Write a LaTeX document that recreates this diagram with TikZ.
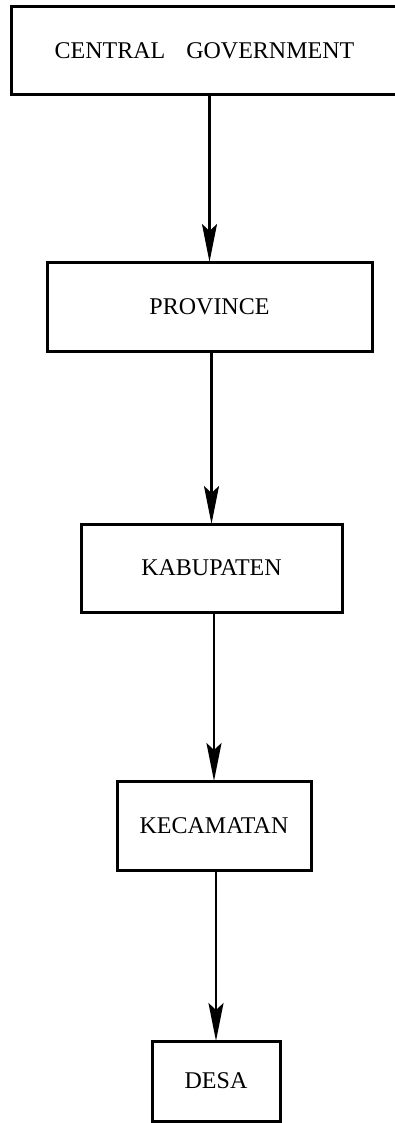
\documentclass[tikz,border=0pt]{standalone}
\usepackage{fontspec}
\setmainfont{Liberation Serif}
\usetikzlibrary{arrows.meta}
\begin{document}
\begin{tikzpicture}[x=1pt,y=-1pt,
  levelbox/.style={draw=black,line width=3pt,rectangle,inner sep=0pt,outer sep=0pt,
    font=\fontsize{24}{28}\selectfont},
  arr/.style={line width=2.2pt,-{Stealth[length=38pt,width=15pt,inset=7pt]}}]
\useasboundingbox (0,0) rectangle (395,1123);
\node[levelbox,minimum width=392pt,minimum height=88pt] (b1) at (207,51)
  {\hspace{-5pt}CENTRAL\hspace{15pt} GOVERNMENT};
\node[levelbox,minimum width=325pt,minimum height=89pt] (b2) at (209.5,306.5)
  {PROVINCE};
\node[levelbox,minimum width=261pt,minimum height=88pt] (b3) at (211.5,568)
  {KABUPATEN};
\node[levelbox,minimum width=194pt,minimum height=89pt] (b4) at (214,825.5)
  {KECAMATAN};
\node[levelbox,minimum width=128pt,minimum height=80pt] (b5) at (216,1081)
  {DESA};
\draw[arr] (b1.south -| b2.north) -- (b2.north);
\draw[arr] (b2.south -| b3.north) -- (b3.north);
\draw[arr] (b3.south -| b4.north) -- (b4.north);
\draw[arr] (b4.south -| b5.north) -- (b5.north);
\end{tikzpicture}
\end{document}
